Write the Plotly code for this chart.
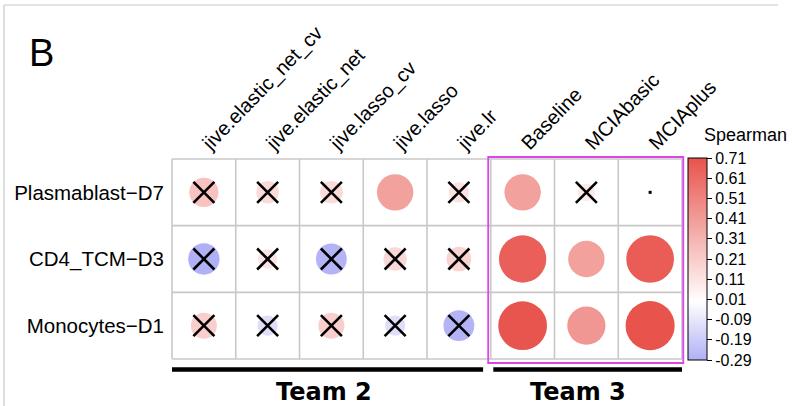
import numpy as np
import plotly.graph_objects as go

# Methods (columns) and cell types (rows)
methods = ["jive.elastic_net_cv", "jive.elastic_net", "jive.lasso_cv", "jive.lasso",
           "jive.lr", "Baseline", "MCIAbasic", "MCIAplus"]
cell_types = ["Plasmablast\u2212D7", "CD4_TCM\u2212D3", "Monocytes\u2212D1"]

# Spearman correlation per cell type / method
rho_plasmablast = [0.25, 0.15, 0.15, 0.39, 0.12, 0.39, 0.09, 0.002]
rho_cd4_tcm = [-0.29, 0.11, -0.28, 0.16, 0.18, 0.66, 0.39, 0.67]
rho_monocytes = [0.20, -0.12, 0.20, -0.12, -0.28, 0.70, 0.43, 0.71]

# 1 = not significant (crossed out)
ns_plasmablast = [1, 1, 1, 0, 1, 0, 1, 0]
ns_cd4_tcm = [1, 1, 1, 1, 1, 0, 0, 0]
ns_monocytes = [1, 1, 1, 1, 1, 0, 0, 0]

# Team grouping of the method columns
teams = ["Team 2", "Team 3"]
team_first_col = [1, 6]
team_last_col = [5, 8]

colorbar_ticks = [0.71, 0.61, 0.51, 0.41, 0.31, 0.21, 0.11, 0.01, -0.09, -0.19, -0.29]
cmin, cmax = -0.29, 0.71

W, H = 792, 406
px_left, px_right, px_top, px_bottom = 172, 682, 159, 359
cell_px = (px_right - px_left) / len(methods)


def col_to_paper(c):
    # column index (1-based, fractional) -> paper x
    return (px_left + (c - 0.5) * cell_px) / W


def row_to_paper(r):
    # row index (1-based, fractional, top to bottom) -> paper y
    cell_h = (px_bottom - px_top) / len(cell_types)
    return 1 - (px_top + (r - 0.5) * cell_h) / H


rho = np.array([rho_plasmablast, rho_cd4_tcm, rho_monocytes])
ns = np.array([ns_plasmablast, ns_cd4_tcm, ns_monocytes])
nr, nc = rho.shape
xx, yy = np.meshgrid(np.arange(1, nc + 1), np.arange(1, nr + 1))

xv, yv, rv = xx.ravel(), yy.ravel(), rho.ravel()
sizes = 0.9 * (cell_px + 1) * np.sqrt(np.abs(rv))
big = np.abs(rv) >= 0.01

colorscale = [
    [0.0, "#b0b0f6"],
    [(0 - cmin) / (cmax - cmin), "#ffffff"],
    [1.0, "#e8534c"],
]

fig = go.Figure()

# circles: area proportional to |rho|, colour by rho
fig.add_trace(go.Scatter(
    x=xv[big], y=yv[big], mode="markers",
    marker=dict(size=sizes[big], color=rv[big], colorscale=colorscale,
                cmin=cmin, cmax=cmax, line=dict(width=0), opacity=1,
                colorbar=dict(
                    x=688 / W, xanchor="left", xpad=0,
                    y=1 - 259 / H, yanchor="middle", ypad=0,
                    len=202, lenmode="pixels", thickness=19,
                    outlinecolor="black", outlinewidth=1,
                    tickvals=colorbar_ticks,
                    ticktext=[f"{t:.2f}" for t in colorbar_ticks],
                    ticks="outside", ticklen=5, tickcolor="black", tickwidth=1,
                    tickfont=dict(family="Liberation Sans", size=16, color="black"),
                )),
    text=[f"{r:.2f}" for r in rv[big]], hoverinfo="text", showlegend=False,
))

# near-zero correlations shown as a dot
fig.add_trace(go.Scatter(
    x=xv[~big], y=yv[~big], mode="markers",
    marker=dict(size=3, color="black", symbol="square"),
    hoverinfo="skip", showlegend=False,
))

# crosses over non-significant cells
m = ns.ravel() == 1
fig.add_trace(go.Scatter(
    x=xv[m], y=yv[m], mode="markers",
    marker=dict(symbol="x-thin", size=21, line=dict(width=2.6, color="black")),
    hoverinfo="skip", showlegend=False,
))

shapes = []
grid_col = "#c8c8c8"
for k in range(nc + 1):
    shapes.append(dict(type="line", xref="paper", yref="paper",
                       x0=col_to_paper(k + 0.5), x1=col_to_paper(k + 0.5),
                       y0=row_to_paper(0.5), y1=row_to_paper(nr + 0.5),
                       line=dict(color=grid_col, width=1.6), layer="below"))
for k in range(nr + 1):
    shapes.append(dict(type="line", xref="paper", yref="paper",
                       x0=col_to_paper(0.5), x1=col_to_paper(nc + 0.5),
                       y0=row_to_paper(k + 0.5), y1=row_to_paper(k + 0.5),
                       line=dict(color=grid_col, width=1.6), layer="below"))

# highlight box around the Team 3 columns
shapes.append(dict(type="rect", xref="paper", yref="paper",
                   x0=col_to_paper(team_first_col[1] - 0.54), x1=col_to_paper(team_last_col[1] + 0.52),
                   y0=row_to_paper(0.47), y1=row_to_paper(nr + 0.56),
                   line=dict(color="#dc46e6", width=1.8)))

# team bars and labels below the grid
bar_y = 1 - 369.5 / H
bar_x0 = [team_first_col[0] - 0.5, team_first_col[1] - 0.46]
bar_x1 = [team_last_col[0] + 0.38, team_last_col[1] + 0.5]
label_x = [2.88, 6.87]
annotations = []
for i, t in enumerate(teams):
    shapes.append(dict(type="line", xref="paper", yref="paper",
                       x0=col_to_paper(bar_x0[i]), x1=col_to_paper(bar_x1[i]),
                       y0=bar_y, y1=bar_y, line=dict(color="black", width=4.5)))
    annotations.append(dict(x=col_to_paper(label_x[i]), y=1 - 392 / H, xref="paper", yref="paper",
                            text=f"<b>{t}</b>", showarrow=False, xanchor="center", yanchor="middle",
                            font=dict(family="DejaVu Sans", size=24, color="black")))

# panel frame
shapes.append(dict(type="line", xref="paper", yref="paper", x0=4 / W, x1=778 / W,
                   y0=1 - 5 / H, y1=1 - 5 / H, line=dict(color="#c8c8c8", width=1.2)))
shapes.append(dict(type="line", xref="paper", yref="paper", x0=4 / W, x1=4 / W,
                   y0=0, y1=1 - 5 / H, line=dict(color="#c8c8c8", width=1.2)))

annotations.append(dict(x=27 / W, y=1 - 53 / H, xref="paper", yref="paper", text="B",
                        showarrow=False, xanchor="left", yanchor="middle",
                        font=dict(family="Liberation Sans", size=38, color="black")))
annotations.append(dict(x=702 / W, y=1 - 135 / H, xref="paper", yref="paper", text="Spearman",
                        showarrow=False, xanchor="left", yanchor="middle",
                        font=dict(family="Liberation Sans", size=18, color="black")))

fig.update_layout(
    width=W, height=H, margin=dict(l=0, r=0, t=0, b=0, autoexpand=False),
    paper_bgcolor="white", plot_bgcolor="rgba(0,0,0,0)",
    shapes=shapes, annotations=annotations,
    xaxis=dict(domain=[px_left / W, px_right / W], range=[0.5, nc + 0.5], automargin=False,
               side="top", tickmode="array", tickvals=list(range(1, nc + 1)), ticktext=methods,
               tickangle=-46, showgrid=False, zeroline=False, showline=False, ticks="",
               ticklabelstandoff=0,
               tickfont=dict(family="Liberation Sans", size=20, color="black")),
    yaxis=dict(domain=[1 - px_bottom / H, 1 - px_top / H], range=[nr + 0.5, 0.5], automargin=False,
               tickmode="array", tickvals=list(range(1, nr + 1)), ticktext=cell_types,
               showgrid=False, zeroline=False, showline=False, ticks="",
               ticklabelstandoff=7,
               tickfont=dict(family="Liberation Sans", size=20.5, color="black")),
)

fig.write_html("out.html")
